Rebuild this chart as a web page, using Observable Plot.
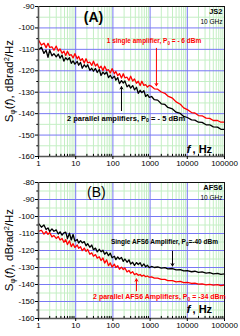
<!DOCTYPE html>
<html><head><meta charset="utf-8">
<script src="https://cdn.jsdelivr.net/npm/d3@7"></script>
<script src="https://cdn.jsdelivr.net/npm/@observablehq/plot@0.6"></script>
<style>body{margin:0;background:#fff}#c{width:240px}svg{display:block}</style>
</head><body><div id="c"></div>
<script>
// Frequencies (Hz) shared by all traces
const freq = [1,1.2,1.4,1.6,1.8,2,2.3,2.6,3,3.4,
3.8,4.3,4.8,5.4,6,6.8,7.6,8.5,9.5,11,
12,13.5,15,17,19,21,24,27,30,34,
38,43,48,54,60,68,76,85,95,110,
120,135,150,170,190,210,240,270,300,340,
380,430,480,540,600,680,760,850,950,1100,
1300,1600,2000,2500,3000,4000,5000,6500,8000,10000,
13000,16000,20000,25000,32000,40000,50000,65000,80000,100000];

// Panel A: 1 single amplifier (red), 2 parallel amplifiers (black)
const redA = [-105.7,-108.0,-107.1,-109.2,-107.2,-109.1,-108.8,-110.4,-108.5,-110.8,
-109.8,-111.8,-110.9,-112.9,-110.9,-112.8,-112.5,-114.0,-112.0,-114.4,
-113.3,-115.3,-114.3,-116.4,-114.4,-116.3,-116.0,-117.5,-115.5,-117.8,
-116.8,-118.8,-117.9,-119.9,-117.9,-119.8,-119.5,-121.0,-119.0,-121.4,
-120.3,-122.3,-121.3,-123.4,-121.4,-123.3,-123.0,-124.5,-122.5,-124.8,
-123.8,-125.8,-124.9,-126.9,-124.9,-126.8,-126.5,-127.6,-126.8,-127.3,
-128.4,-128.6,-129.9,-130.5,-131.8,-132.8,-134.5,-135.6,-137.3,-138.1,
-139.5,-139.7,-140.9,-141.0,-142.1,-142.2,-143.2,-143.2,-144.0,-144.0];
const blackA = [-110.2,-109.0,-111.9,-110.4,-113.7,-110.3,-113.0,-112.0,-113.5,-112.2,
-114.1,-112.7,-115.5,-113.9,-114.9,-113.9,-116.5,-115.4,-116.9,-115.6,
-117.4,-116.1,-118.8,-117.2,-118.3,-117.2,-119.8,-118.8,-120.2,-118.9,
-120.8,-119.4,-122.2,-120.6,-121.6,-120.6,-123.2,-122.1,-123.6,-122.5,
-124.4,-123.2,-126.0,-124.6,-125.7,-124.7,-127.5,-126.6,-128.1,-126.9,
-128.9,-127.7,-130.5,-129.1,-130.2,-129.3,-132.0,-131.1,-132.4,-132.0,
-133.5,-133.7,-135.4,-135.7,-137.1,-137.8,-139.3,-139.9,-141.3,-141.8,
-142.9,-143.0,-144.0,-144.1,-145.2,-145.2,-146.2,-146.3,-147.3,-147.3];

// Panel B: single AFS6 (black), 2 parallel AFS6 (red)
const blackB = [-104.1,-106.3,-105.0,-107.7,-106.7,-108.8,-107.3,-108.7,-107.9,-110.3,
-109.0,-111.0,-109.6,-109.2,-113.0,-109.8,-113.8,-110.6,-114.5,-113.5,
-115.6,-114.2,-115.5,-114.8,-117.2,-116.0,-118.1,-116.8,-119.5,-118.6,
-120.8,-119.3,-120.7,-119.8,-122.2,-121.0,-123.0,-121.6,-124.3,-123.4,
-125.4,-123.8,-125.0,-124.1,-126.4,-125.0,-126.9,-125.5,-128.0,-126.9,
-128.8,-127.1,-128.2,-127.2,-129.3,-127.9,-129.6,-128.7,-130.1,-129.4,
-130.0,-129.7,-130.4,-130.1,-130.8,-130.6,-131.4,-131.2,-132.0,-131.8,
-132.5,-132.2,-132.9,-132.6,-133.3,-133.0,-133.7,-133.4,-134.0,-133.8];
const redB = [-108.8,-108.1,-110.4,-108.8,-110.5,-109.4,-112.0,-111.2,-112.9,-111.8,
-113.8,-112.9,-115.2,-113.6,-116.5,-114.3,-117.7,-116.0,-118.2,-116.8,
-118.7,-117.8,-120.1,-118.6,-120.5,-119.4,-122.2,-121.4,-123.4,-122.4,
-124.5,-123.7,-125.9,-124.4,-127.4,-125.5,-128.9,-127.3,-129.7,-128.1,
-130.0,-129.0,-131.0,-129.8,-131.2,-130.3,-132.6,-131.7,-133.4,-132.5,
-134.2,-133.5,-134.6,-134.1,-135.1,-134.5,-135.4,-135.0,-135.7,-135.5,
-136.2,-136.2,-137.0,-137.0,-137.7,-137.7,-138.4,-138.2,-138.9,-138.8,
-139.4,-139.2,-139.8,-139.6,-140.2,-139.9,-140.4,-140.1,-140.6,-140.3];

// Tick labels
const xTicks = [1,10,100,1000,10000,100000];
const yTicksA = [-160,-150,-140,-130,-120,-110,-100,-90];
const yTicksB = [-160,-150,-140,-130,-120,-110,-100,-90,-80];

// Texts (note parts: before subscript, subscript, after)
const panelTags = ["(A)", "(B)"];
const deviceA = ["JS2", "10 GHz"];
const deviceB = ["AFS6", "10 GHz"];
const noteA = [["1 single amplifier, P", "0", " = - 6 dBm"], ["2 parallel amplifiers, P", "0", " = - 5 dBm"]];
const noteB = [["Single AFS6 Amplifier, P", "0", "=-40 dBm"], ["2 parallel AFS6 Amplifiers, P", "0", " = -34 dBm"]];

const BLUE = "#7878f4", GREEN = "#c4efc4", RED = "#ff0000";
const FONT = "Liberation Sans, Arial, sans-serif";
const minorX = xTicks.slice(0, 5).flatMap(d => [2,3,4,5,6,7,8,9].map(k => k * d));
const rows = vals => freq.map((f, i) => ({f, v: vals[i]}));

function panel(o) {
  const y0 = o.yTicks[0], y1 = o.yTicks[o.yTicks.length - 1];
  const yMinor = o.yTicks.slice(0, -1).map(d => d + 5);
  const T = (arr, opts) => Plot.text(arr, {x: "f", y: "v", text: "t", ...opts});
  const svg = Plot.plot({
    width: 240, height: 168,
    marginLeft: 38, marginRight: 16, marginTop: o.mt, marginBottom: o.mb,
    style: {fontFamily: FONT, fontSize: "8px", background: "#fff", overflow: "visible", color: "#000"},
    x: {type: "log", domain: [1, 100000]},
    y: {domain: [y0, y1]},
    marks: [
      Plot.ruleX(minorX, {stroke: GREEN, strokeWidth: 1}),
      Plot.ruleY(yMinor, {stroke: GREEN, strokeWidth: 1}),
      Plot.ruleX(xTicks, {stroke: BLUE, strokeWidth: 1}),
      Plot.ruleY(o.yTicks, {stroke: BLUE, strokeWidth: 1}),
      ...o.lines.map(([vals, color]) => Plot.line(rows(vals), {x: "f", y: "v", stroke: color, strokeWidth: 1.3})),
      Plot.frame({stroke: "#111", strokeWidth: 1}),
      Plot.ruleX([1], {stroke: "#555", strokeWidth: 1.6}),
      Plot.ruleY([y0], {stroke: "#555", strokeWidth: 1.6}),
      Plot.ruleX(minorX, {y1: y0, y2: y0 + o.mtick, stroke: "#000"}),
      Plot.ruleY(yMinor, {x1: 0.9, x2: 1, stroke: "#000"}),
      Plot.axisX(xTicks, {tickSize: 3, tickPadding: 1, tickFormat: d => String(d), label: null, fontSize: 8}),
      Plot.axisY(o.yTicks, {tickSize: 3, tickPadding: 1, tickFormat: d => String(d), label: null, fontSize: 8}),
      T([{t: o.tag, f: o.tagPos[0], v: o.tagPos[1]}], {fontSize: 14, fontWeight: o.tagWeight, fill: "#000"}),
      T([{t: o.device[0], f: 88300, v: o.devPos[0]}], {fontSize: 7.5, fontWeight: "bold", textAnchor: "end", fill: "#000"}),
      T([{t: o.device[1], f: 88300, v: o.devPos[1]}], {fontSize: 6.5, textAnchor: "end", fill: "#000"}),
      Plot.arrow(o.arrows, {x1: "f", x2: "f", y1: "v1", y2: "v2", stroke: d => d.color, strokeWidth: 1, headLength: 4}),
      T([{t: "f", f: 13000, v: o.fHz}], {fontSize: 11, fontWeight: "bold", fontStyle: "italic", textAnchor: "end", dx: -1, fill: "#000"}),
      T([{t: ", Hz", f: 13000, v: o.fHz}], {fontSize: 11, fontWeight: "bold", textAnchor: "start", dx: 1, fill: "#000"})
    ]
  });
  const sx = svg.scale("x"), sy = svg.scale("y");
  const root = d3.select(svg);
  // annotations with subscript P0
  for (const n of o.notes) {
    const t = root.append("text")
      .attr("x", sx.apply(n.f)).attr("y", sy.apply(n.v)).attr("dy", "0.35em")
      .attr("text-anchor", "middle").attr("font-family", FONT)
      .attr("font-size", n.size).attr("font-weight", "bold").attr("fill", n.color);
    t.append("tspan").text(n.parts[0]);
    t.append("tspan").text(n.parts[1]).attr("font-size", n.size * 0.7).attr("dy", 1.8);
    t.append("tspan").text(n.parts[2]).attr("dy", -1.8);
  }
  // y-axis title
  const cy = (o.mt + 168 - o.mb) / 2;
  const t = root.append("text")
    .attr("transform", `translate(13,${cy}) rotate(-90)`)
    .attr("text-anchor", "middle").attr("font-family", FONT)
    .attr("font-size", 11.5).attr("fill", "#000");
  t.append("tspan").text("S");
  t.append("tspan").text("\u03c6").attr("font-size", 8).attr("dy", 2);
  t.append("tspan").text("(").attr("dy", -2);
  t.append("tspan").text("f").attr("font-style", "italic");
  t.append("tspan").text("), dBrad");
  t.append("tspan").text("2").attr("font-size", 7.5).attr("dy", -4);
  t.append("tspan").text("/Hz").attr("dy", 4);
  return svg;
}

const c = document.getElementById("c");
c.append(panel({
  yTicks: yTicksA, mt: 6, mb: 12, mtick: 1,
  lines: [[blackA, "#000"], [redA, RED]],
  tag: panelTags[0], tagPos: [30, -95.2], tagWeight: "bold",
  device: deviceA, devPos: [-92.6, -97.3],
  notes: [
    {parts: noteA[0], f: 1313, v: -106.2, color: RED, size: 6.5},
    {parts: noteA[1], f: 232, v: -142.3, color: "#000", size: 7.5}
  ],
  arrows: [
    {f: 1480, v1: -109.5, v2: -127, color: RED},
    {f: 170, v1: -138.6, v2: -127.4, color: "#000"}
  ],
  fHz: -156.9
}));
c.append(panel({
  yTicks: yTicksB, mt: 14, mb: 18, mtick: 1.2,
  lines: [[redB, RED], [blackB, "#000"]],
  tag: panelTags[1], tagPos: [36, -85.8], tagWeight: "normal",
  device: deviceB, devPos: [-82.9, -88.8],
  notes: [
    {parts: noteB[0], f: 2510, v: -115.1, color: "#000", size: 6.5},
    {parts: noteB[1], f: 1845, v: -147.3, color: RED, size: 7}
  ],
  arrows: [
    {f: 4000, v1: -120.4, v2: -129.1, color: "#000"},
    {f: 430, v1: -143.7, v2: -136.7, color: RED}
  ],
  fHz: -154.9
}));
</script>
</body></html>
